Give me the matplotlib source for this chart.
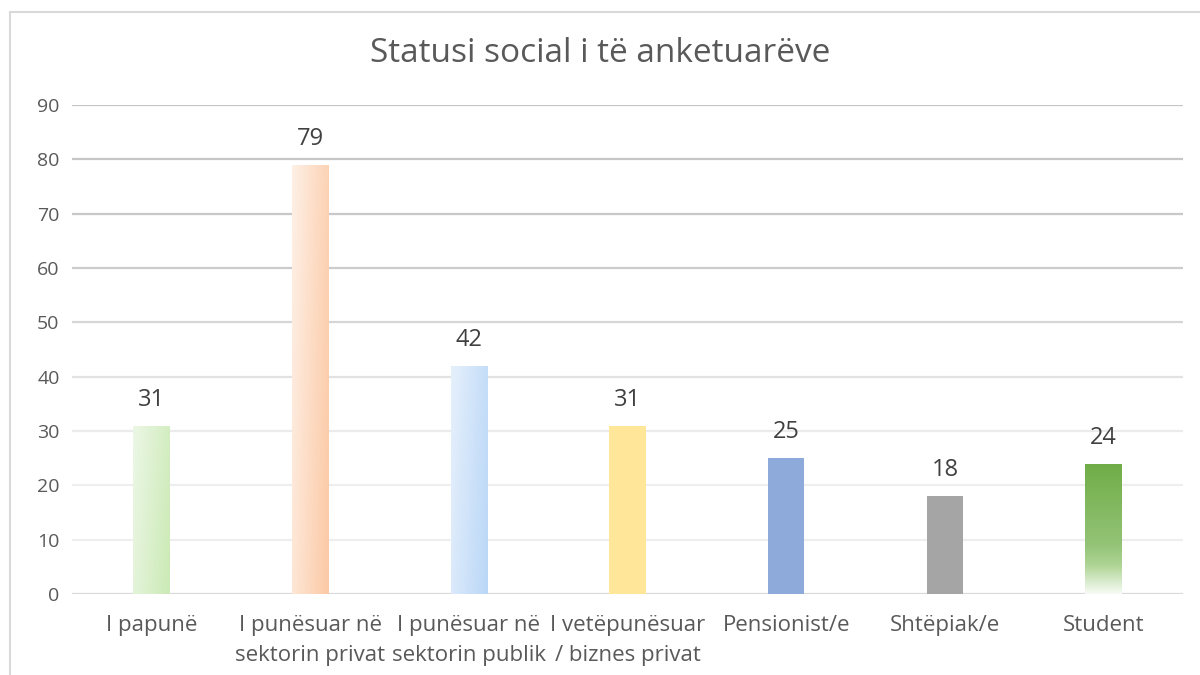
import numpy as np
import matplotlib
matplotlib.use("Agg")
import matplotlib.pyplot as plt
from matplotlib.colors import LinearSegmentedColormap
from matplotlib.patches import Rectangle

plt.rcParams["font.family"] = ["Open Sans", "DejaVu Sans"]

# data
categories = ["I papunë", "I punësuar në\nsektorin privat", "I punësuar në\nsektorin publik",
              "I vetëpunësuar\n/ biznes privat", "Pensionist/e", "Shtëpiak/e", "Student"]
values = [31, 79, 42, 31, 25, 18, 24]
y_ticks = [0, 10, 20, 30, 40, 50, 60, 70, 80, 90]

# colour stops for each bar, and fill style
bar_fills = [
    ("diag", ["#ecf7e6", "#cbeab5"]),
    ("diag", ["#fef0e6", "#fcc9a5"]),
    ("diag", ["#e6f0fc", "#bad7f7"]),
    ("solid", ["#ffe699"]),
    ("solid", ["#8eaadb"]),
    ("solid", ["#a5a5a5"]),
    ("vert", [(0.0, "#f7fbf5"), (0.22, "#aed494"), (0.38, "#93c376"), (1.0, "#70ad47")]),
]
grid_colors = ["#d9d9d9", "#eeeeee", "#eeeeee", "#ebebeb", "#e2e2e2",
               "#d6d6d6", "#cccccc", "#c8c8c8", "#c6c6c6", "#c6c6c6"]

fig = plt.figure(figsize=(12, 6.75), dpi=100)
fig.patch.set_facecolor("white")

# outer chart frame
fig.patches.append(Rectangle((10 / 1200, -0.01), 1.02, 1 - 12 / 675 + 0.01,
                             transform=fig.transFigure, fill=False,
                             edgecolor="#d9d9d9", linewidth=1.5))

ax = fig.add_axes([72 / 1200, 1 - 594 / 675, (1183 - 72) / 1200, (594 - 105) / 675])
ax.set_xlim(-0.5, len(categories) - 0.5)
ax.set_ylim(0, 90)

for t, c in zip(y_ticks, grid_colors):
    ax.axhline(t, color=c, linewidth=1.6, zorder=0)

x = np.arange(len(categories))
bars = ax.bar(x, values, width=0.23, color="none", zorder=2)

for bar, (kind, stops), v in zip(bars, bar_fills, values):
    bx, by = bar.get_x(), bar.get_y()
    bw, bh = bar.get_width(), bar.get_height()
    if kind == "solid":
        bar.set_facecolor(stops[0])
    else:
        cmap = LinearSegmentedColormap.from_list("g", stops)
        if kind == "diag":
            xx, yy = np.meshgrid(np.linspace(0, 1, 50), np.linspace(0, 1, 200))
            grad = 0.75 * xx + 0.25 * (1 - yy)
        else:
            grad = np.repeat(np.linspace(0, 1, 200)[:, None], 10, axis=1)
        im = ax.imshow(grad, cmap=cmap, vmin=0, vmax=1, origin="lower",
                       extent=[bx, bx + bw, by, by + bh], aspect="auto",
                       interpolation="bilinear", zorder=2)
        im.set_clip_path(bar)
    ax.annotate(str(v), (bar.get_x() + bw / 2, bh), xytext=(0, 10),
                textcoords="offset points", ha="center", va="bottom",
                fontsize=17, color="#404040")

ax.set_xticks(x)
ax.set_xticklabels(categories, fontsize=16, color="#595959", linespacing=1.6)
ax.set_yticks(y_ticks)
ax.set_yticklabels([str(t) for t in y_ticks], fontsize=14, color="#595959")
ax.tick_params(axis="both", length=0)
ax.tick_params(axis="x", pad=15)
ax.tick_params(axis="y", pad=9)
for s in ax.spines.values():
    s.set_visible(False)
ax.set_facecolor("none")

fig.text(0.5, 1 - 54 / 675, "Statusi social i të anketuarëve", ha="center", va="center",
         fontsize=24, color="#595959")

fig.savefig("out.png", dpi=100, facecolor="white")
